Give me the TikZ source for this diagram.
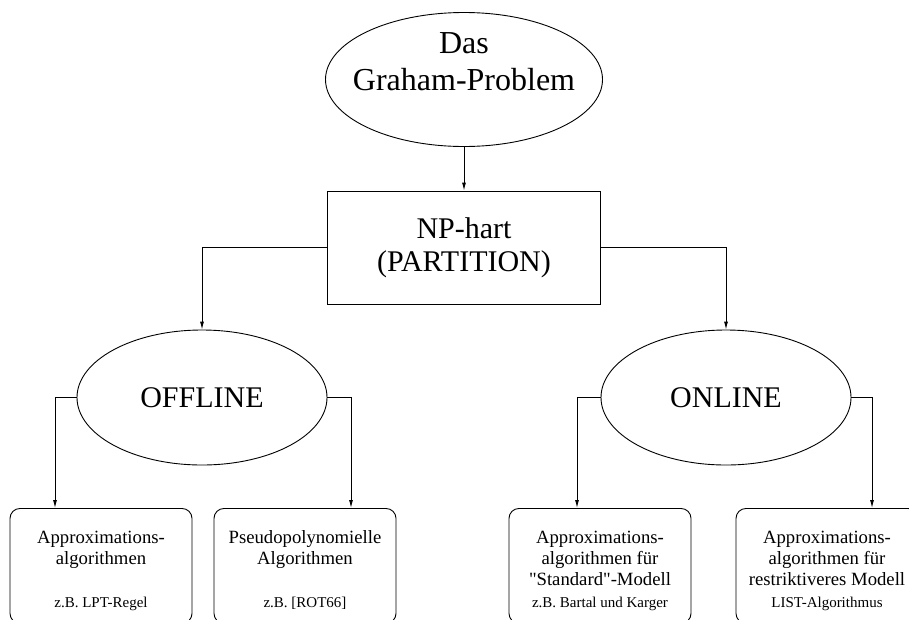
\documentclass[tikz,border=0pt]{standalone}
\usepackage{fontspec}
\setmainfont{Liberation Serif}[Ligatures=TeXOff]
\usetikzlibrary{positioning,shapes}
\usetikzlibrary{calc}
\usetikzlibrary{arrows.meta,arrows}
\tikzset{%
  % Specifications for style of nodes:
    >={Latex[width=4pt,length=8pt]},
    topic/.style={draw, ellipse, line width=0.9pt, minimum width=250pt, minimum height=135pt,
        inner sep=0pt, font=\fontsize{30}{33}\selectfont},
    hard/.style={draw, rectangle, line width=0.9pt, minimum width=273pt, minimum height=113pt,
        align=center, font=\fontsize{30}{33}\selectfont},
    leaf/.style={draw, rectangle, rounded corners=10pt, line width=0.9pt, anchor=north,
        text width=176pt, inner xsep=3pt, inner ysep=0pt, align=flush center,
        text height=35pt, text depth=80pt, font=\fontsize{18.7}{21}\selectfont},
    link/.style={->, line width=0.9pt},
}
\newcommand{\beispiel}[1]{{\frenchspacing\fontsize{15}{18}\selectfont #1}}

\begin{document}
\begin{tikzpicture}
    \useasboundingbox (0pt,0pt) rectangle (909pt,-619pt);
    % problem and complexity
    \node[topic, minimum width=277pt, minimum height=134pt, text width=230pt, align=flush center,
        inner xsep=-60pt, text height=20pt, text depth=72pt,
        font=\fontsize{32}{37}\selectfont] (graham) at (464pt,-79.5pt) {Das\\Graham-Problem};
    \node[hard] (np) at (464pt,-247.5pt) {NP-hart\\(PARTITION)};
    % the two settings
    \node[topic] (offline) at (202pt,-397.5pt) {OFFLINE};
    \node[topic] (online) at (726pt,-397.5pt) {ONLINE};
    % algorithm classes
    \node[leaf] (approx) at (101pt,-508pt) {Approximations-\\algorithmen\\[22pt]\beispiel{z.B. LPT-Regel}};
    \node[leaf] (pseudo) at (305pt,-508pt) {Pseudopolynomielle\\Algorithmen\\[22pt]\beispiel{z.B. [ROT66]}};
    \node[leaf] (standard) at (600pt,-508pt) {Approximations-\\algorithmen f\"ur\\"Standard"-Modell\\[1pt]\beispiel{z.B. Bartal und Karger}};
    \node[leaf] (restrict) at (827pt,-508pt) {Approximations-\\algorithmen f\"ur\\restriktiveres Modell\\[1pt]\beispiel{LIST-Algorithmus}};

    \draw[link] (graham.south) -- (np.north);
    \draw[link] (np.west) -| (offline.north);
    \draw[link] (np.east) -| (online.north);
    \draw[link] (offline.west) -| ([xshift=-46pt]approx.north);
    \draw[link] (offline.east) -| ([xshift=46pt]pseudo.north);
    \draw[link] (online.west) -| ([xshift=-23pt]standard.north);
    \draw[link] (online.east) -| ([xshift=45pt]restrict.north);
\end{tikzpicture}
\end{document}
